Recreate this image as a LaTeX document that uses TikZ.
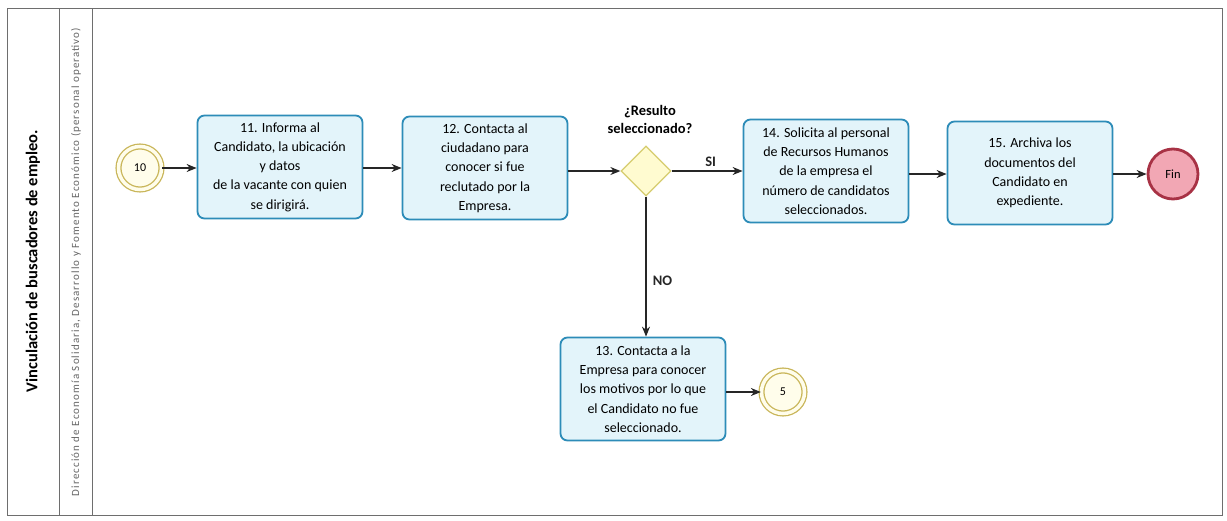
\documentclass[tikz,border=0pt]{standalone}
\usepackage{fontspec}
\setmainfont{Carlito}
\usetikzlibrary{shapes.geometric,arrows.meta}
\definecolor{boxfill}{HTML}{E3F4FA}
\definecolor{boxline}{HTML}{2D8CB8}
\definecolor{dfill}{HTML}{FFFBD0}
\definecolor{dline}{HTML}{D6CC6E}
\definecolor{gline}{HTML}{C9B65A}
\definecolor{gfill}{HTML}{FFFDEB}
\definecolor{finfill}{HTML}{F2A7B4}
\definecolor{finline}{HTML}{A83245}
\definecolor{frame}{HTML}{6E6E6E}
\begin{document}
\begin{tikzpicture}[x=1pt,y=-1pt,
  task/.style={draw=boxline,fill=boxfill,line width=1.8pt,rounded corners=7pt,
    minimum width=165pt,minimum height=103pt,align=center,inner sep=2pt,
    font=\fontsize{14}{19.3}\selectfont},
  gate/.style={diamond,draw=dline,fill=dfill,line width=1.3pt,minimum width=50pt,minimum height=50pt,inner sep=0pt},
  link/.style={circle,draw=gline,fill=gfill,line width=1.3pt,double=gfill,double distance=3.5pt,
    minimum size=43pt,inner sep=0pt,font=\fontsize{12}{14}\selectfont},
  endev/.style={circle,draw=finline,fill=finfill,line width=2.8pt,minimum size=50pt,inner sep=0pt,
    font=\fontsize{12.5}{14}\selectfont},
  flow/.style={-{Stealth[length=10pt,width=8pt]},line width=1.1pt,black!85},
  lbl/.style={font=\bfseries\fontsize{14.5}{18}\selectfont,align=center}]
\useasboundingbox (0,0) rectangle (1227,520);
\fill[white] (0,0) rectangle (1227,520);
% frame
\draw[frame,line width=1pt] (7,8) rectangle (1222,515);
\draw[frame,line width=1pt] (59,8) -- (59,515);
\draw[frame,line width=1pt] (92,8) -- (92,515);
\node[rotate=90,font=\bfseries\fontsize{16.5}{19}\selectfont] (title) at (33,261) {Vinculación de buscadores de empleo.};
\node[rotate=90,text=black!60,font=\fontsize{11}{13}\selectfont\addfontfeature{LetterSpace=10}] (lane) at (76,262) {Dirección de Economía Solidaria, Desarrollo y Fomento Económico (personal operativo)};
% nodes
\node[link] (c10) at (140,168) {10};
\node[task] (t11) at (280,167) {11. Informa al\\Candidato, la ubicación\\y datos\\de la vacante con quien\\se dirigirá.};
\node[task] (t12) at (485,168) {12. Contacta al\\ciudadano para\\conocer si fue\\reclutado por la\\Empresa.};
\node[gate] (g) at (646,171) {};
\node[lbl] (gq) at (650,119) {¿Resulto\\seleccionado?};
\node[task] (t14) at (826,171) {14. Solicita al personal\\de Recursos Humanos\\de la empresa el\\número de candidatos\\seleccionados.};
\node[task] (t15) at (1030,173) {15. Archiva los\\documentos del\\Candidato en\\expediente.};
\node[endev] (fin) at (1173,174) {Fin};
\node[task] (t13) at (643,389) {13. Contacta a la\\Empresa para conocer\\los motivos por lo que\\el Candidato no fue\\seleccionado.};
\node[link] (c5) at (783,392) {5};
% connectors
\draw[flow] (c10) -- (t11.west |- c10);
\draw[flow] (t11.east |- c10) -- (t12.west |- c10);
\draw[flow] (t12.east |- g) -- (g.west);
\draw[flow] (g.east) -- node[lbl,above=1pt,pos=0.55] (si) {SI} (t14.west |- g);
\draw[flow] (t14.east |- fin) -- (t15.west |- fin);
\draw[flow] (t15.east |- fin) -- (fin.west);
\draw[flow] (g.south) -- node[lbl,right=3pt,pos=0.6] (no) {NO} (t13.north -| g);
\draw[flow] (t13.east |- c5) -- (c5.west);
\end{tikzpicture}
\end{document}
